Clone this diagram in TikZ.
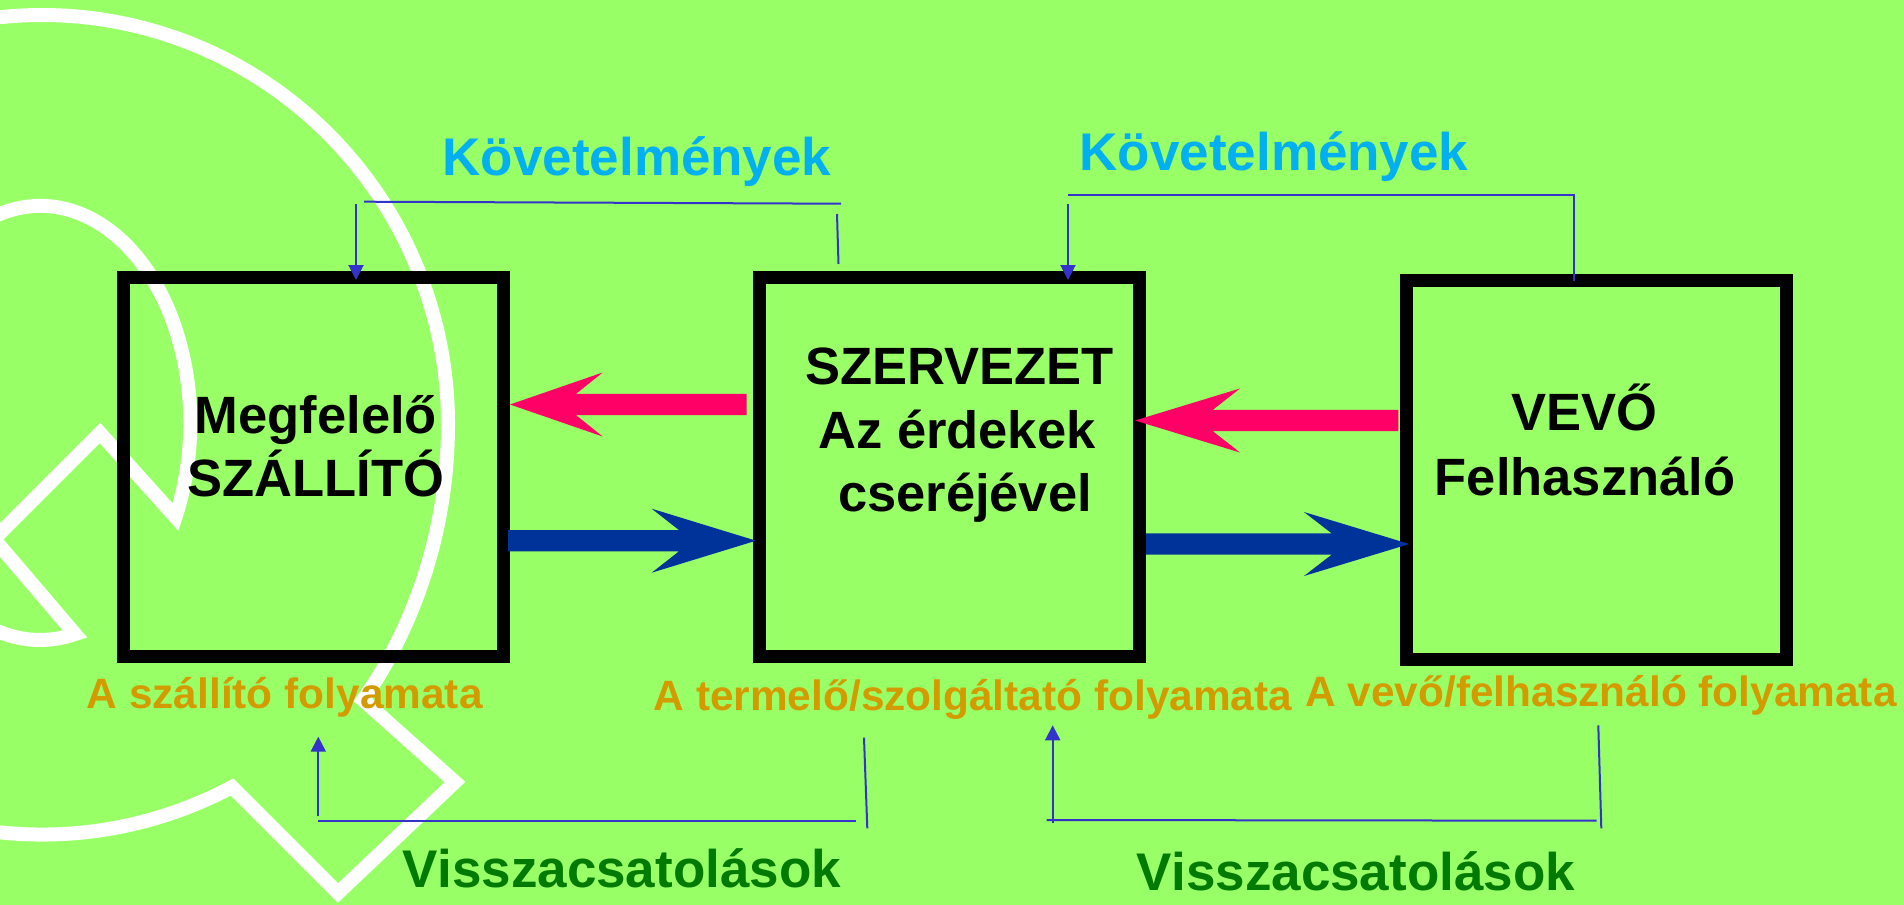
\documentclass[tikz,border=0pt]{standalone}
\usepackage{fontspec}
\setmainfont{Liberation Sans}
\usetikzlibrary{arrows.meta,calc}
\definecolor{bg}{HTML}{99FF66}
\definecolor{redarr}{HTML}{FF0066}
\definecolor{bluearr}{HTML}{003399}
\definecolor{thinblue}{HTML}{3333CC}
\definecolor{cyantext}{HTML}{00B0F0}
\definecolor{orangetext}{HTML}{D49B00}
\definecolor{greentext}{HTML}{007A00}
% #1 colour, #2 tail coordinate, #3 tip coordinate, #4 head length (signed), #5 notch distance (signed)
\newcommand\blockarrow[5]{%
  \fill[#1] ($(#2)+(0,-10.6)$) -- ($(#3)+(#5,-10.6)$) -- ($(#3)+(#4,-32)$) -- (#3)
    -- ($(#3)+(#4,32)$) -- ($(#3)+(#5,10.6)$) -- ($(#2)+(0,10.6)$) -- cycle;}
\begin{document}
\begin{tikzpicture}[x=1bp,y=-1bp,
  box/.style={draw=black,line width=13bp,minimum width=379.5bp,minimum height=379bp,inner sep=0pt},
  boxtext/.style={font=\fontsize{52.5bp}{63bp}\selectfont\bfseries,text=black,anchor=base,inner sep=0pt},
  req/.style={font=\fontsize{53bp}{63bp}\selectfont\bfseries,text=cyantext,anchor=base,inner sep=0pt},
  proc/.style={font=\fontsize{42.4bp}{50bp}\selectfont\bfseries,text=orangetext,anchor=base,inner sep=0pt},
  fb/.style={font=\fontsize{53bp}{63bp}\selectfont\bfseries,text=greentext,anchor=base,inner sep=0pt},
  fbline/.style={draw=thinblue,line width=2bp},
  fbarrow/.style={fbline,-{Triangle[length=15bp,width=15bp]}},
  deco/.style={draw=white,line width=14bp,line join=miter}
]
\fill[bg] (0,0) rectangle (1904,905);
\useasboundingbox (0,0) rectangle (1904,905);

% background decoration
\begin{scope}
  \clip (0,0) rectangle (1904,905);
  \draw[deco] (-14.5,19) arc[start angle=262,end angle=360,x radius=406,y radius=409]
    .. controls (448,545) and (405,640) .. (363,700)
    -- (455,782) -- (338,893) -- (232,787)
    arc[start angle=62.1,end angle=100,x radius=406,y radius=409];
  \draw[deco] (-11,219) arc[start angle=250,end angle=385.7,x radius=150,y radius=217]
    -- (100,433) -- (-6,539) -- (75,634)
    arc[start angle=76.5,end angle=110,x radius=150,y radius=217];
\end{scope}

% boxes
\node[box] (b1) at (313.75,467) {};
\node[box] (b2) at (949.25,467) {};
\node[box] (b3) at (1596.5,470.3) {};

% block arrows
\coordinate (r1s) at (746.7,404.5);  \coordinate (r1t) at (510,404.5);
\coordinate (u1s) at (508,540.7);    \coordinate (u1t) at (756,540.7);
\coordinate (r2s) at (1398.3,420.5); \coordinate (r2t) at (1135,420.5);
\coordinate (u2s) at (1146,544);     \coordinate (u2t) at (1409.3,544);
\blockarrow{redarr}{r1s}{r1t}{92.7}{66}
\blockarrow{bluearr}{u1s}{u1t}{-104.3}{-77}
\blockarrow{redarr}{r2s}{r2t}{105}{77.7}
\blockarrow{bluearr}{u2s}{u2t}{-105.3}{-77.6}

% requirement lines (top)
\coordinate (tl1) at (364,201.7); \coordinate (tl2) at (841,203.7);
\coordinate (tl3) at (837,214);   \coordinate (tl4) at (838.5,264);
\coordinate (ta1) at (356,204);   \coordinate (ta2) at (356,280);
\coordinate (tr1) at (1068,195);  \coordinate (tr2) at (1574,195); \coordinate (tr3) at (1574,280.7);
\coordinate (tb1) at (1068,204);  \coordinate (tb2) at (1068,280);
\draw[fbline] (tl1) -- (tl2);
\draw[fbline] (tl3) -- (tl4);
\draw[fbarrow] (ta1) -- (ta2);
\draw[fbline] (tr1) -- (tr2) -- (tr3);
\draw[fbarrow] (tb1) -- (tb2);

% feedback lines (bottom)
\coordinate (bl1) at (318.3,815.7); \coordinate (bl2) at (318.3,736.7);
\coordinate (bl3) at (318.3,821);   \coordinate (bl4) at (856,821);
\coordinate (bl5) at (864,737.7);   \coordinate (bl6) at (867.3,828.3);
\coordinate (br1) at (1052.7,823.3); \coordinate (br2) at (1052.7,725.3);
\coordinate (br3) at (1046.7,820);   \coordinate (br4) at (1596.7,820.7);
\coordinate (br5) at (1598.3,725.3); \coordinate (br6) at (1601.3,828.3);
\draw[fbarrow] (bl1) -- (bl2);
\draw[fbline] (bl3) -- (bl4);
\draw[fbline] (bl5) -- (bl6);
\draw[fbarrow] (br1) -- (br2);
\draw[fbline] (br3) -- (br4);
\draw[fbline] (br5) -- (br6);

% box texts
\node[boxtext] (t11) at (315.8,433) {Megfelelő};
\node[boxtext] (t12) at (315.8,496.7) {SZÁLLÍTÓ};
\node[boxtext] (t21) at (959.5,384) {SZERVEZET};
\node[boxtext] (t22) at (957,448.3) {Az érdekek};
\node[boxtext] (t23) at (965,511.7) {cseréjével};
\node[boxtext] (t31) at (1584,430.7) {VEVŐ};
\node[boxtext] (t32) at (1585,495.7) {Felhasználó};

% labels
\node[req] (k1) at (637,175) {Követelmények};
\node[req] (k2) at (1274,170) {Követelmények};
\node[proc] (p1) at (284.7,708) {A szállító folyamata};
\node[proc] (p2) at (973,710.5) {A termelő/szolgáltató folyamata};
\node[proc] (p3) at (1601,706.7) {A vevő/felhasználó folyamata};
\node[fb] (v1) at (622,887.3) {Visszacsatolások};
\node[fb] (v2) at (1356,890) {Visszacsatolások};
\end{tikzpicture}
\end{document}
